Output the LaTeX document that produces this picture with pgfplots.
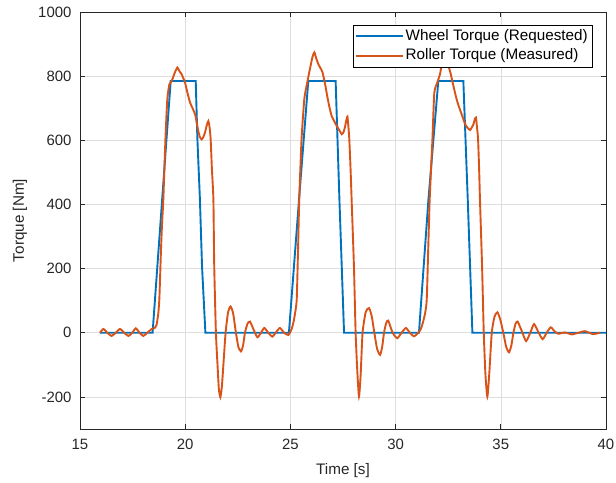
\documentclass[border=0pt]{standalone}
\usepackage{fontspec}
\setmainfont{Liberation Sans}
\usepackage{pgfplots}
\pgfplotsset{compat=1.18}
\definecolor{mblue}{rgb}{0,0.447,0.741}
\definecolor{morange}{rgb}{0.850,0.325,0.098}
\definecolor{axgray}{rgb}{0.15,0.15,0.15}
\begin{document}
\begin{tikzpicture}
\path[use as bounding box] (-80bp,-54bp) rectangle (536bp,429bp);
\begin{axis}[
  scale only axis, width=526bp, height=417bp,
  xmin=15, xmax=40, ymin=-300, ymax=1000,
  xtick={15,20,25,30,35,40}, ytick={-200,0,200,400,600,800,1000},
  tick align=inside, xtick pos=both, ytick pos=both,
  major tick length=5bp,
  grid=major, grid style={color=black!13, line width=0.6bp},
  axis line style={axgray, line width=0.8bp},
  tick style={axgray, line width=0.8bp},
  /pgf/number format/assume math mode=true,
  /pgf/number format/1000 sep={},
  tick label style={font=\fontsize{15}{18}\selectfont, text=axgray},
  xticklabel style={yshift=-7bp},
  yticklabel style={xshift=-5bp},
  xlabel={Time [s]}, ylabel={Torque [Nm]},
  label style={font=\fontsize{15.3}{18}\selectfont, text=axgray},
  xlabel style={at={(axis description cs:0.5,-0.1)}, anchor=center},
  ylabel style={at={(axis description cs:-0.114,0.5)}, anchor=center},
  legend image code/.code={\draw[#1, line width=1.9bp] (0bp,0bp) -- (47bp,0bp);},
  legend cell align=left,
  legend style={at={(1,1)}, anchor=north east, xshift=-14bp, yshift=-13bp,
    draw=black, fill=white, inner xsep=2bp, inner ysep=1.5bp,
    row sep=0bp, column sep=0bp,
    font=\fontsize{15.3}{18}\selectfont,
    nodes={inner xsep=2bp, inner ysep=2.5bp, text height=11bp, text depth=3.5bp}},
]
\addplot[mblue, line width=1.9bp] coordinates {
(15.95,0) (18.45,0) (19.31,785) (20.50,785) (20.58,603) (20.70,415) (20.80,207) (20.96,0)
(24.93,0) (25.41,415) (25.85,785) (27.15,785) (27.33,415) (27.55,0)
(31.11,0) (31.56,415) (32.03,785) (33.22,785) (33.43,415) (33.65,0) (40,0)
};
\addlegendentry{Wheel Torque (Requested)}
\addplot[morange, line width=1.9bp, smooth, tension=0.35] coordinates {
(15.95,0) (16.11,12) (16.30,0) (16.50,-10) (16.70,0) (16.90,12) (17.10,0) (17.30,-10)
(17.48,0) (17.65,14) (17.83,0) (18.01,-10) (18.20,0) (18.41,12) (18.55,15) (18.64,25)
(18.72,60) (18.77,103) (18.81,180) (18.85,260) (18.90,340) (18.96,415) (19.06,603)
(19.15,728) (19.25,775) (19.36,785) (19.50,810) (19.63,827) (19.73,815) (19.83,806)
(19.99,780) (20.10,750) (20.23,718) (20.35,700) (20.47,681) (20.55,655) (20.62,629)
(20.70,610) (20.78,603) (20.86,610) (20.94,624) (21.03,648) (21.10,660) (21.16,640)
(21.21,603) (21.27,510) (21.34,415) (21.38,207) (21.46,0) (21.54,-105) (21.60,-175)
(21.67,-201) (21.74,-170) (21.81,-105) (21.92,0) (22.04,65) (22.16,82) (22.28,60)
(22.41,0) (22.53,-45) (22.65,-58) (22.75,-40) (22.84,0) (22.96,28) (23.08,35)
(23.25,10) (23.43,-14) (23.60,0) (23.76,15) (23.95,0) (24.14,-12) (24.30,0) (24.50,15)
(24.70,0) (24.90,-7) (25.05,10) (25.14,31) (25.22,60) (25.30,103) (25.36,250)
(25.42,415) (25.53,603) (25.66,728) (25.77,770) (25.93,823) (26.05,860) (26.14,874)
(26.23,855) (26.33,837) (26.43,825) (26.53,811) (26.65,775) (26.75,738) (26.85,705)
(26.96,676) (27.08,660) (27.20,645) (27.32,632) (27.44,619) (27.52,625) (27.59,640)
(27.65,660) (27.71,674) (27.76,640) (27.80,603) (27.86,510) (27.91,415) (28.02,207)
(28.10,0) (28.18,-120) (28.26,-199) (28.34,-130) (28.43,0) (28.58,65) (28.74,77)
(28.87,50) (28.99,0) (29.12,-50) (29.26,-69) (29.36,-45) (29.45,0) (29.55,30)
(29.65,38) (29.86,0) (30.08,-17) (30.28,0) (30.49,15) (30.68,0) (30.87,-11) (31.08,0)
(31.20,12) (31.29,30) (31.40,60) (31.48,103) (31.55,260) (31.62,415) (31.75,603)
(31.84,748) (31.98,780) (32.11,806) (32.20,840) (32.30,860) (32.40,850) (32.51,832)
(32.61,810) (32.71,780) (32.90,728) (33.02,703) (33.14,681) (33.25,660) (33.35,645)
(33.45,637) (33.54,632) (33.62,640) (33.70,650) (33.76,665) (33.82,671) (33.87,640)
(33.92,603) (33.97,510) (34.01,415) (34.11,207) (34.19,0) (34.27,-130) (34.36,-199)
(34.45,-130) (34.57,0) (34.70,50) (34.84,64) (34.98,40) (35.12,0) (35.26,-45)
(35.39,-61) (35.50,-40) (35.60,0) (35.70,28) (35.80,35) (36.00,5) (36.20,-26)
(36.40,0) (36.58,27) (36.80,0) (36.99,-20) (37.18,0) (37.37,17) (37.55,5) (37.73,-3)
(38.05,1) (38.37,-5) (38.69,0) (39.00,5) (39.37,-4) (39.72,0)
};
\addlegendentry{Roller Torque (Measured)}
\end{axis}
\end{tikzpicture}
\end{document}
